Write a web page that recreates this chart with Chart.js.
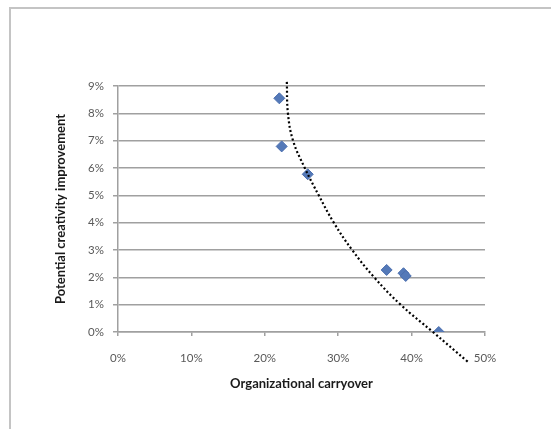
<!DOCTYPE html>
<html>
<head>
<meta charset="utf-8">
<script src="https://cdn.jsdelivr.net/npm/chart.js@4.4.1/dist/chart.umd.min.js"></script>
<style>
  html, body { margin: 0; padding: 0; background: #fff; }
  #wrap { position: relative; width: 551px; height: 429px; overflow: hidden; }
  #frame { position: absolute; left: 9px; top: 7px; width: 600px; height: 500px;
           border-left: 2px solid #c4c4c4; border-top: 2px solid #c4c4c4; }
  canvas { position: absolute; left: 0; top: 0; }
</style>
</head>
<body>
<div id="wrap">
  <div id="frame"></div>
  <canvas id="grafico" width="551" height="429"></canvas>
</div>
<script>
// pontos observados (% carryover, % melhoria)
const carryover = [21.98, 22.3, 25.85, 36.6, 38.9, 39.2, 43.7];
const melhoria = [8.55, 6.79, 5.77, 2.27, 2.15, 2.05, 0.0];

// linha de tendencia
const tendX = [23.0, 23.15, 23.85, 25.45, 27.35, 29.4, 31.9, 34.9, 38.5, 42.9, 47.7];
const tendY = [9.15, 8.0, 7.0, 6.0, 5.0, 4.0, 3.0, 2.0, 1.0, 0.0, -1.1];

const yTicks = [0, 1, 2, 3, 4, 5, 6, 7, 8, 9];
const xTicks = [0, 10, 20, 30, 40, 50];

const pontos = carryover.map((x, i) => ({ x: x, y: melhoria[i] }));
const tendencia = tendX.map((x, i) => ({ x: x, y: tendY[i] }));

const fonteTick = { family: 'Lato', size: 11.5 };
const fonteTitulo = { family: 'Lato', size: 13, weight: 'bold' };

const ctx = document.getElementById('grafico').getContext('2d');
new Chart(ctx, {
    type: 'scatter',
    data: {
        datasets: [{
            data: pontos,
            pointStyle: 'rectRot',
            pointRadius: 5.5,
            pointHoverRadius: 5.5,
            backgroundColor: '#5479b8',
            borderColor: '#4a6eae',
            borderWidth: 1,
            order: 1
        }, {
            data: tendencia,
            showLine: true,
            pointRadius: 0,
            borderColor: '#000',
            borderWidth: 2.2,
            borderDash: [2, 2.4],
            tension: 0.4,
            clip: false,
            order: 0
        }]
    },
    options: {
        responsive: false,
        animation: false,
        layout: { padding: { left: 53, right: 66, top: 86, bottom: 37 } },
        plugins: {
            legend: { display: false },
            tooltip: { enabled: false }
        },
        scales: {
            x: {
                type: 'linear',
                min: 0,
                max: 50,
                afterBuildTicks: s => { s.ticks = xTicks.map(v => ({ value: v })); },
                afterFit: s => { s.height = 60; },
                ticks: {
                    color: '#595959',
                    font: fonteTick,
                    padding: 15,
                    callback: v => v + '%'
                },
                grid: { drawOnChartArea: false, color: '#a0a0a0', tickLength: 4, lineWidth: 1.5 },
                border: { color: '#a0a0a0', width: 1.5 },
                title: {
                    display: true,
                    text: 'Organizational carryover',
                    color: '#1a1a1a',
                    font: fonteTitulo,
                    padding: { top: 0, bottom: 0 }
                }
            },
            y: {
                min: 0,
                max: 9,
                afterBuildTicks: s => { s.ticks = yTicks.map(v => ({ value: v })); },
                afterFit: s => { s.width = 65; },
                ticks: {
                    color: '#595959',
                    font: fonteTick,
                    padding: 9,
                    callback: v => v + '%'
                },
                grid: { color: '#a0a0a0', tickLength: 5, lineWidth: 1.5 },
                border: { color: '#a0a0a0', width: 1.5 },
                title: {
                    display: true,
                    text: 'Potential creativity improvement',
                    color: '#1a1a1a',
                    font: fonteTitulo,
                    padding: { top: 0, bottom: 0 }
                }
            }
        }
    }
});
</script>
</body>
</html>
